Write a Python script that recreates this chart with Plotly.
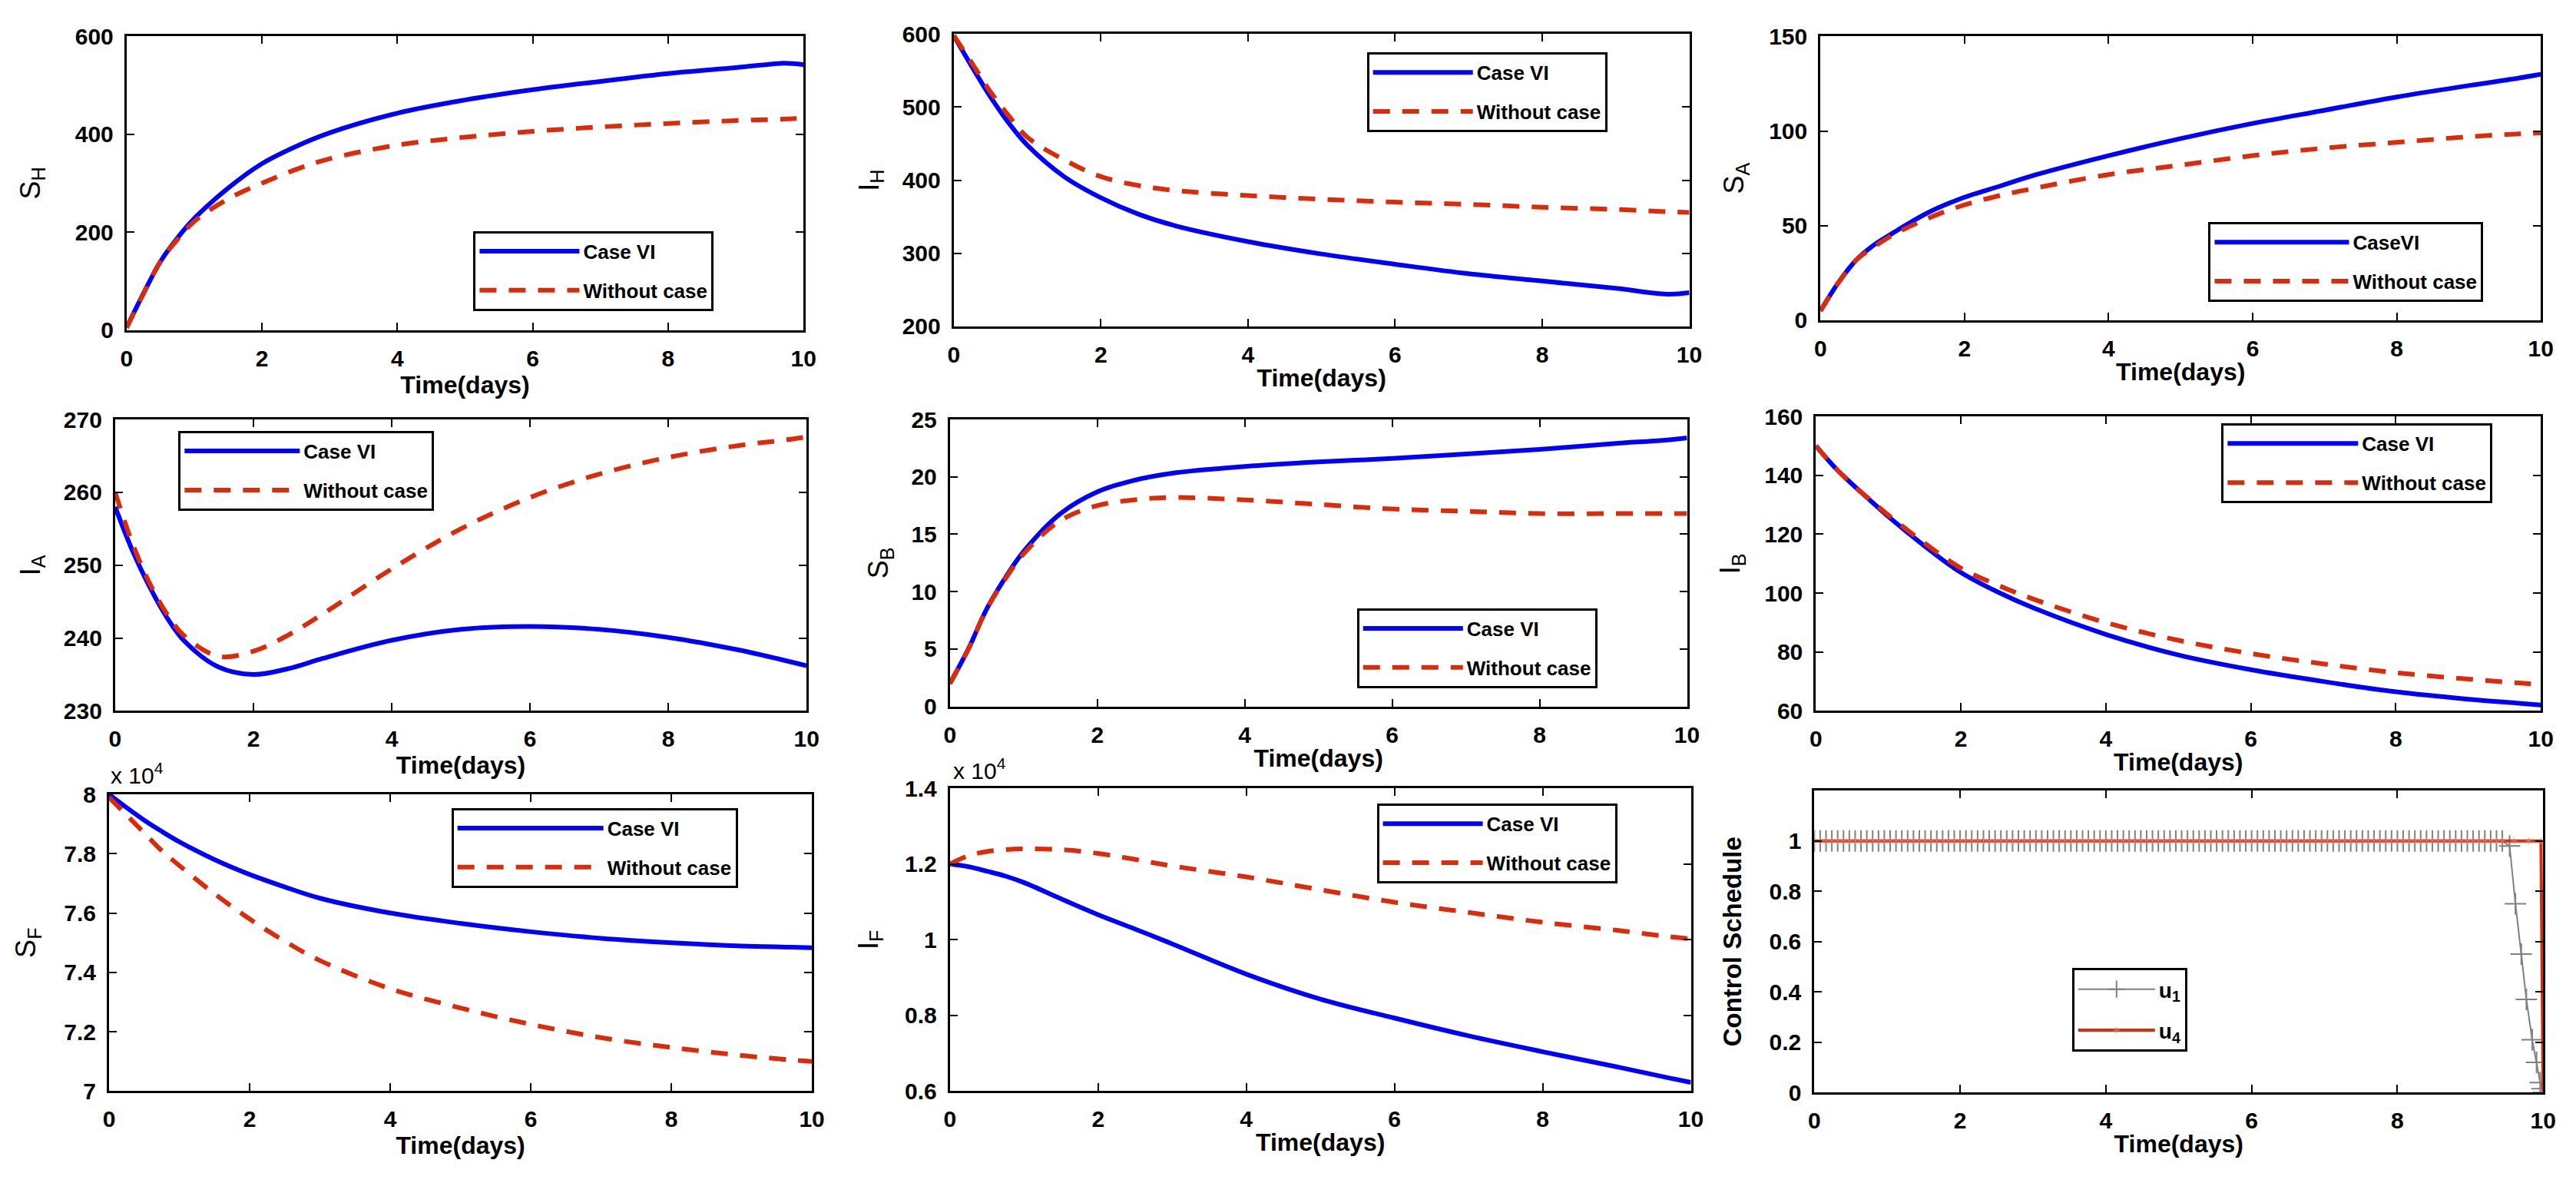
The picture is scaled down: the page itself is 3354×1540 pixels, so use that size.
import plotly.graph_objects as go

# time samples (days)
t = [0, 0.25, 0.5, 0.75, 1, 1.5, 2, 2.5, 3, 4, 5, 6, 7, 8, 9, 9.7, 10]

sh_case = [5, 75, 140, 188, 228, 290, 340, 375, 403, 443, 470, 491, 508, 524, 536, 545, 542]
sh_without = [5, 75, 140, 185, 222, 268, 300, 328, 350, 378, 394, 406, 415, 422, 428, 431, 433]

ih_case = [598, 555, 514, 478, 448, 405, 376, 354, 338, 316, 299, 285, 272, 262, 252, 244, 246]
ih_without = [598, 560, 521, 488, 459, 428, 405, 393, 386, 379, 374, 370, 367, 363, 360, 357, 356]

sa_case = [5, 20, 32, 40, 46, 57, 65, 71, 77, 87, 96, 104, 111, 118, 124, 128, 130]
sa_without = [5, 20, 32, 39, 45, 54, 61, 66, 70, 77, 82, 87, 91, 94, 97, 98.5, 99]

ia_case = [258, 252, 247, 242.8, 239.6, 236, 235, 235.8, 237.2, 239.7, 241.2, 241.6, 241.2, 240.1, 238.4, 236.9, 236.2]
ia_without = [260, 253, 247.5, 243.3, 240.3, 237.5, 238.2, 240.4, 243.3, 249.5, 255, 259.3, 262.5, 264.8, 266.4, 267.2, 267.6]

sb_case = [2, 5, 8.5, 11.2, 13.5, 16.8, 18.7, 19.7, 20.3, 20.9, 21.3, 21.6, 22, 22.4, 22.9, 23.2, 23.4]
sb_without = [2, 5, 8.5, 11.1, 13.3, 16.2, 17.5, 18.0, 18.2, 18, 17.6, 17.2, 17, 16.8, 16.8, 16.8, 16.8]

ib_case = [150, 143, 137, 131.5, 126, 116, 107, 100.5, 95, 86, 79, 74, 70, 66.5, 64, 62.6, 62]
ib_without = [150, 143, 137, 131.7, 126.5, 117, 108.5, 102.8, 98, 90, 84, 79.5, 76, 73, 70.8, 69.5, 69]

# S_F and I_F in units of 10^4
sf_case = [8.0, 7.955, 7.913, 7.875, 7.84, 7.78, 7.73, 7.688, 7.65, 7.6, 7.565, 7.537, 7.515, 7.5, 7.489, 7.485, 7.483]
sf_without = [7.99, 7.93, 7.87, 7.81, 7.76, 7.665, 7.58, 7.505, 7.44, 7.345, 7.28, 7.225, 7.18, 7.147, 7.12, 7.105, 7.1]

if_case = [1.2, 1.193, 1.181, 1.168, 1.151, 1.108, 1.066, 1.028, 0.989, 0.909, 0.843, 0.793, 0.746, 0.704, 0.664, 0.635, 0.623]
if_without = [1.2, 1.222, 1.233, 1.238, 1.24, 1.238, 1.228, 1.212, 1.195, 1.166, 1.132, 1.099, 1.072, 1.046, 1.025, 1.008, 1.002]

# control schedule
u_time = [
    0, 0.08, 0.16, 0.24, 0.32, 0.40, 0.48, 0.56, 0.64, 0.72, 0.80, 0.88,
    0.96, 1.04, 1.12, 1.20, 1.28, 1.36, 1.44, 1.52, 1.60, 1.68, 1.76, 1.84,
    1.92, 2.00, 2.08, 2.16, 2.24, 2.32, 2.40, 2.48, 2.56, 2.64, 2.72, 2.80,
    2.88, 2.96, 3.04, 3.12, 3.20, 3.28, 3.36, 3.44, 3.52, 3.60, 3.68, 3.76,
    3.84, 3.92, 4.00, 4.08, 4.16, 4.24, 4.32, 4.40, 4.48, 4.56, 4.64, 4.72,
    4.80, 4.88, 4.96, 5.04, 5.12, 5.20, 5.28, 5.36, 5.44, 5.52, 5.60, 5.68,
    5.76, 5.84, 5.92, 6.00, 6.08, 6.16, 6.24, 6.32, 6.40, 6.48, 6.56, 6.64,
    6.72, 6.80, 6.88, 6.96, 7.04, 7.12, 7.20, 7.28, 7.36, 7.44, 7.52, 7.60,
    7.68, 7.76, 7.84, 7.92, 8.00, 8.08, 8.16, 8.24, 8.32, 8.40, 8.48, 8.56,
    8.64, 8.72, 8.80, 8.88, 8.96, 9.04, 9.12, 9.20, 9.28, 9.36, 9.44,
]
u1_drop_time = [9.54, 9.62, 9.70, 9.77, 9.85, 9.91, 9.96, 9.985, 10]
u1_drop = [0.98, 0.75, 0.55, 0.37, 0.21, 0.12, 0.04, 0.015, 0]
u1 = [1] * len(u_time) + u1_drop
u1_time = u_time + u1_drop_time
u4_time = u_time + [9.6, 9.8, 9.97, 10]
u4 = [1] * len(u_time) + [1, 1, 1, 0]

BLUE = "#0000FF"
RED = "#DA2C0B"
GRAY = "#808080"
FONT = "Liberation Sans, Arial, sans-serif"
W, H = 3354, 1540

panels = [
    dict(case=sh_case, wo=sh_without, yt="S<sub>H</sub>", yr=[0, 600], dt=200, lab="Case VI",
         box=(158, 1046, 31, 422), leg=(613, 290), iw=130, so=35),
    dict(case=ih_case, wo=ih_without, yt="I<sub>H</sub>", yr=[200, 600], dt=100, lab="Case VI",
         box=(1243, 2208, 28, 417), leg=(1785, 52), iw=130, so=20),
    dict(case=sa_case, wo=sa_without, yt="S<sub>A</sub>", yr=[0, 150], dt=50, lab="CaseVI",
         box=(2380, 3325, 31, 409), leg=(2889, 278), iw=175, so=22),
    dict(case=ia_case, wo=ia_without, yt="I<sub>A</sub>", yr=[230, 270], dt=10, lab="Case VI",
         box=(143, 1050, 541, 929), leg=(226, 556), iw=150, so=20),
    dict(case=sb_case, wo=sb_without, yt="S<sub>B</sub>", yr=[0, 25], dt=5, lab="Case VI",
         box=(1238, 2205, 541, 923), leg=(1772, 792), iw=130, so=19),
    dict(case=ib_case, wo=ib_without, yt="I<sub>B</sub>", yr=[60, 160], dt=20, lab="Case VI",
         box=(2374, 3325, 537, 929), leg=(2906, 546), iw=170, so=21),
    dict(case=sf_case, wo=sf_without, yt="S<sub>F</sub>", yr=[7, 8], dt=0.2, lab="Case VI",
         box=(135, 1057, 1040, 1435), leg=(584, 1058), iw=190, so=26),
    dict(case=if_case, wo=if_without, yt="I<sub>F</sub>", yr=[0.6, 1.4], dt=0.2, lab="Case VI",
         box=(1238, 2210, 1032, 1435), leg=(1798, 1052), iw=130, so=24),
    dict(yt="Control Schedule", yr=[0, 1.2], dt=0.2, box=(2372, 3328, 1035, 1437),
         leg=(2710, 1271), iw=100, so=27),
]

fig = go.Figure()
layout = dict(
    width=W, height=H, autosize=False,
    margin=dict(l=0, r=0, t=0, b=0),
    paper_bgcolor="white", plot_bgcolor="white",
    showlegend=True,
    font=dict(family=FONT, size=24, color="black"),
)

for i, p in enumerate(panels, start=1):
    sfx = "" if i == 1 else str(i)
    xa, ya = "x" + sfx, "y" + sfx
    leg = "legend" + sfx
    if i < 9:
        fig.add_trace(go.Scatter(
            x=t, y=p["case"], mode="lines", name=p["lab"],
            line=dict(color=BLUE, width=6, shape="spline", smoothing=1.0),
            xaxis=xa, yaxis=ya, legend=leg, legendgroup=f"g{i}a"))
        fig.add_trace(go.Scatter(
            x=t, y=p["wo"], mode="lines", name="Without case",
            line=dict(color=RED, width=6, dash="22px,16px", shape="spline", smoothing=1.0),
            xaxis=xa, yaxis=ya, legend=leg, legendgroup=f"g{i}b"))
    else:
        fig.add_trace(go.Scatter(
            x=u1_time, y=u1, mode="lines+markers", name="u<sub>1</sub>",
            line=dict(color=GRAY, width=2),
            marker=dict(symbol="cross-thin", size=20, line=dict(color=GRAY, width=2)),
            xaxis=xa, yaxis=ya, legend=leg, legendgroup="g9a"))
        fig.add_trace(go.Scatter(
            x=u4_time, y=u4, mode="lines+markers", name="u<sub>4</sub>",
            line=dict(color=RED, width=4),
            marker=dict(symbol="cross-thin", size=6, line=dict(color="#F08070", width=1)),
            xaxis=xa, yaxis=ya, legend=leg, legendgroup="g9b"))

    x0, x1, y0, y1 = p["box"]
    axis_common = dict(
        showline=True, linewidth=3, linecolor="black", mirror="ticks",
        ticks="inside", ticklen=10, tickwidth=2, tickcolor="black",
        showgrid=False, zeroline=False,
        tickfont=dict(family=FONT, size=30, weight="bold", color="black"),
    )
    layout["xaxis" + sfx] = dict(
        axis_common, domain=[x0 / W, x1 / W], anchor=ya, range=[0, 10], dtick=2,
        ticklabelstandoff=8,
        title=dict(text="Time(days)", standoff=4,
                   font=dict(family=FONT, size=32, weight="bold", color="black")),
    )
    yticks = dict(dtick=p["dt"])
    if i == 9:
        yticks = dict(tickvals=[0, 0.2, 0.4, 0.6, 0.8, 1])
    ytitle_font = dict(family=FONT, size=36, color="black")
    if i == 9:
        ytitle_font = dict(family=FONT, size=33, weight="bold", color="black")
    layout["yaxis" + sfx] = dict(
        axis_common, domain=[1 - y1 / H, 1 - y0 / H], anchor=xa, range=p["yr"],
        ticklabelstandoff=8, **yticks,
        title=dict(text=p["yt"], standoff=p["so"], font=ytitle_font),
    )
    lx, ly = p["leg"]
    layout[leg] = dict(
        x=lx / W, y=1 - ly / H, xanchor="left", yanchor="top",
        bgcolor="white", bordercolor="black", borderwidth=3,
        font=dict(family=FONT, size=26 if i < 9 else 28, weight="bold", color="black"),
        itemwidth=p["iw"], tracegroupgap=14, traceorder="grouped",
    )

layout["annotations"] = [
    dict(text="x 10<sup>4</sup>", x=135 / W, y=1 - 1012 / H, xref="paper", yref="paper",
         xanchor="left", yanchor="middle", showarrow=False,
         font=dict(family=FONT, size=30, color="black")),
    dict(text="x 10<sup>4</sup>", x=1240 / W, y=1 - 1006 / H, xref="paper", yref="paper",
         xanchor="left", yanchor="middle", showarrow=False,
         font=dict(family=FONT, size=30, color="black")),
]

fig.update_layout(layout)
fig.write_html(
    "out.html",
    config={"displayModeBar": False},
    post_script="document.body.style.margin='0';document.body.style.overflow='hidden';",
)
print("saved out.html")
